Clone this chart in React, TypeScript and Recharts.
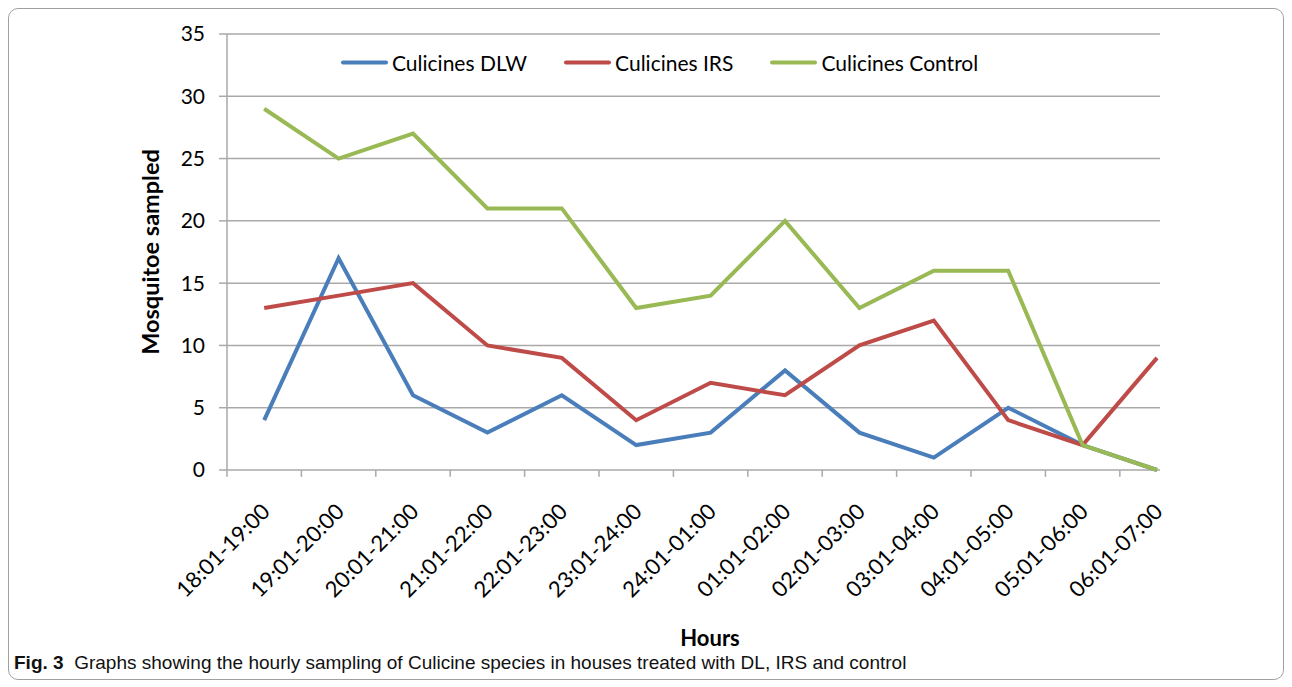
import { LineChart, Line, XAxis, YAxis, CartesianGrid, ReferenceLine } from "recharts"

const hours = [
  "18:01-19:00",
  "19:01-20:00",
  "20:01-21:00",
  "21:01-22:00",
  "22:01-23:00",
  "23:01-24:00",
  "24:01-01:00",
  "01:01-02:00",
  "02:01-03:00",
  "03:01-04:00",
  "04:01-05:00",
  "05:01-06:00",
  "06:01-07:00",
]
const dlw = [4, 17, 6, 3, 6, 2, 3, 8, 3, 1, 5, 2, 0]
const irs = [13, 14, 15, 10, 9, 4, 7, 6, 10, 12, 4, 2, 9]
const control = [29, 25, 27, 21, 21, 13, 14, 20, 13, 16, 16, 2, 0]
const yTicks = [0, 5, 10, 15, 20, 25, 30, 35]
const hourCenters = hours.map((_, i) => i)
const hourEdges = hours.map((_, i) => i - 0.5)

const series = [
  { key: "dlw", name: "Culicines DLW", color: "#4a7ebb" },
  { key: "irs", name: "Culicines IRS", color: "#be4b48" },
  { key: "control", name: "Culicines Control", color: "#98b954" },
]

const data = hours.map((h, i) => ({
  idx: i,
  hour: h,
  dlw: dlw[i],
  irs: irs[i],
  control: control[i],
}))

const FONT = "Lato, 'Open Sans', sans-serif"
const GRID = "#a9a9a9"

function HourTick(props: any) {
  const { x, y, payload } = props
  const ax = x + 7
  const ay = y + 41
  return (
    <text
      x={ax}
      y={ay}
      transform={`rotate(-45, ${ax}, ${ay})`}
      textAnchor="end"
      fontFamily={FONT}
      fontSize={22}
      fill="#000"
    >
      {hours[payload.value]}
    </text>
  )
}

export default function App() {
  return (
    <div
      style={{
        position: "relative",
        width: 1274,
        height: 670,
        border: "1px solid #a0a0a0",
        borderRadius: 10,
        fontFamily: FONT,
      }}
    >
      <LineChart width={1274} height={640} data={data} margin={{ top: 25, right: 123, bottom: 29, left: 0 }}>
        <CartesianGrid horizontal vertical={false} stroke={GRID} strokeWidth={1.5} />
        <XAxis
          dataKey="idx"
          type="number"
          domain={[-0.5, 12.04]}
          ticks={hourCenters}
          height={150}
          axisLine={false}
          tickLine={false}
          tickSize={0}
          tick={<HourTick />}
          interval={0}
        />
        <YAxis
          domain={[0, 35]}
          ticks={yTicks}
          width={218}
          tickSize={8}
          tickMargin={14}
          stroke={GRID}
          strokeWidth={1.5}
          tick={{ fill: "#000", fontSize: 21, fontFamily: FONT }}
        />
        {hourEdges.map((e) => (
          <ReferenceLine
            key={e}
            segment={[
              { x: e, y: 0 },
              { x: e, y: -0.55 },
            ]}
            ifOverflow="visible"
            stroke={GRID}
            strokeWidth={1.5}
          />
        ))}
        {series.map((s) => (
          <Line
            key={s.key}
            type="linear"
            dataKey={s.key}
            name={s.name}
            stroke={s.color}
            strokeWidth={4}
            dot={false}
            isAnimationActive={false}
          />
        ))}
      </LineChart>
      <div
        style={{
          position: "absolute",
          left: 332,
          top: 53,
          transform: "translateY(-50%)",
          display: "flex",
          alignItems: "center",
          fontSize: 21,
          color: "#000",
        }}
      >
        {series.map((s) => (
          <div key={s.key} style={{ display: "flex", alignItems: "center", marginRight: 37 }}>
            <div style={{ width: 47, height: 4, borderRadius: 2, background: s.color, marginRight: 4 }} />
            <span>{s.name}</span>
          </div>
        ))}
      </div>
      <div
        style={{
          position: "absolute",
          left: 141,
          top: 243,
          transform: "translate(-50%, -50%) rotate(-90deg)",
          fontWeight: 700,
          fontSize: 23.5,
          whiteSpace: "nowrap",
        }}
      >
        Mosquitoe sampled
      </div>
      <div
        style={{
          position: "absolute",
          left: 701,
          top: 628,
          transform: "translate(-50%, -50%)",
          fontWeight: 700,
          fontSize: 22,
        }}
      >
        Hours
      </div>
      <div
        style={{
          position: "absolute",
          left: 5,
          top: 643,
          fontFamily: "'Liberation Sans Narrow', 'Liberation Sans', sans-serif",
          fontSize: 19,
          whiteSpace: "nowrap",
          color: "#111",
        }}
      >
        <b>Fig. 3</b>&nbsp;&nbsp;Graphs showing the hourly sampling of Culicine species in houses treated with DL, IRS and control
      </div>
    </div>
  )
}
